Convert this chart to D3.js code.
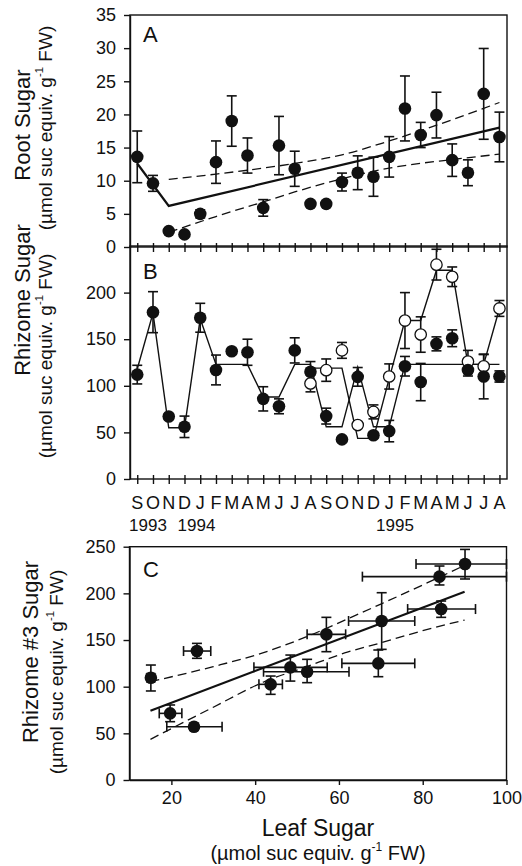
<!DOCTYPE html>
<html><head><meta charset="utf-8">
<script src="https://cdn.jsdelivr.net/npm/d3@7"></script>
<style>html,body{margin:0;padding:0;background:#fff}</style>
</head><body>
<script>
// ---------- data ----------
const months = ["S","O","N","D","J","F","M","A","M","J","J","A","S","O","N","D","J","F","M","A","M","J","J","A"];
const yearLabels = ["1993","1994","1995"];
const yearIndex = [0.68, 3.76, 16.37];

// Panel A: root sugar (filled), mean and SE
const rootMean = [13.6,9.6,2.4,1.9,5.0,12.8,19.0,13.8,5.9,15.3,11.8,6.5,6.5,9.8,11.2,10.6,13.6,20.9,16.9,19.9,13.1,11.2,23.1,16.6];
const rootErr  = [3.9,1.2,0.3,0.3,0.6,3.2,3.8,2.65,1.25,4.4,2.65,0.4,0.4,1.35,2.55,2.95,3.05,4.9,1.9,3.45,2.45,1.95,6.85,3.75];
const rootFitIdx = [0,2,23];
const rootFit = [12.6,6.2,18.0];
const rootBandIdx = [2,5,8,10,13,16,20,23];
const rootUpper = [10.2,11.0,11.9,12.6,13.9,16.0,19.2,21.8];
const rootLower = [2.2,4.6,6.8,8.3,10.3,11.9,13.2,14.0];

// Panel B: rhizome sugar, filled and open series
const rhizMean = [112,179,67,56,173,117,137,136,86,78,138,115,67.5,42.5,109.6,47,51.4,121,104,145,151,117,110,110];
const rhizErr  = [10,22,3,11.5,15.5,16,3,14,13,8,13.5,11,8.5,2,10,3,11.5,10.5,20,7.5,9,6.5,24,6];
const openMean = [null,null,null,null,null,null,null,null,null,null,null,102.5,116.8,138,57.9,72,110,170,155,230,217,126,121,183];
const openErr  = [null,null,null,null,null,null,null,null,null,null,null,9,12,8.5,3,7.5,13.5,30,19,16.5,10.5,12,12.5,8.5];
const fitLine1 = [118,178,55,55,172,123,123,123,88,88,123,123,56,56,120,56,56,123,123,123,123,123,123,123];
const fitLine2 = [null,null,null,null,null,null,null,null,null,null,null,119,119,119,43.6,43.6,108,170,170,224,224,123,123,183];

// Panel C: rhizome #3 vs leaf sugar
const leafX   = [15.1,19.7,25.4,26.1,43.7,48.4,52.4,57.0,70.2,69.4,84.4,84.0,90.1];
const leafXlo = [14.2,17.1,18.9,22.9,40.9,39.7,42.0,52.4,62.3,60.7,76.4,65.6,78.4];
const leafXhi = [16.0,22.5,32.1,29.4,46.5,57.2,62.4,61.6,78.1,78.1,92.6,100.3,100.0];
const rhiz3   = [109.6,71.4,57.1,138.2,102.5,120.7,116.0,156.1,170.4,125.0,183.2,217.9,231.4];
const rhiz3lo = [95.4,62.5,53.5,130.4,91.8,106.0,104.3,137.5,140.0,110.7,174.3,209.0,215.4];
const rhiz3hi = [123.2,80.4,60.5,146.4,111.4,133.9,129.3,174.3,200.7,139.3,191.8,229.3,247.1];
const cFitX = [15,90];
const cFit = [74.3,201.8];
const cBandX = [15,30,42,52,62,70,80,90];
const cUpper = [105.4,121.5,136.5,153,172.5,188.5,209,230];
const cLower = [43.6,78,105,121,137,147,160,171.4];

const yTicksA = [0,5,10,15,20,25,30,35];
const yTicksB = [0,50,100,150,200];
const yTicksC = [0,50,100,150,200,250];
const xTicksC = [20,40,60,80,100];

// ---------- layout ----------
const FONT = "'Liberation Sans', Arial, Helvetica, sans-serif";
const svg = d3.select("body").append("svg").attr("width",522).attr("height",866)
  .style("font-family",FONT);
svg.append("rect").attr("width",522).attr("height",866).attr("fill","#fff");

const L = 130, R = 507;
const xM = d3.scaleLinear().domain([-0.46,23.48]).range([L,R]);
const yA = d3.scaleLinear().domain([0,35]).range([247,15]);
const yB = d3.scaleLinear().domain([0,250]).range([479,246]);
const xC = d3.scaleLinear().domain([10,100]).range([129.5,506.5]);
const yC = d3.scaleLinear().domain([0,250]).range([780,546.7]);

const SW = 1.4;
function frame(x0,x1,y0,y1){
  svg.append("rect").attr("x",x0).attr("y",y0).attr("width",x1-x0).attr("height",y1-y0)
    .attr("fill","none").attr("stroke","#111").attr("stroke-width",SW);
}
function yAxis(scale,ticks,x){
  const g = svg.append("g").attr("transform",`translate(${x},0)`)
    .call(d3.axisLeft(scale).tickValues(ticks).tickSize(6).tickSizeOuter(0).tickPadding(8));
  g.select(".domain").attr("stroke","#111").attr("stroke-width",SW);
  g.selectAll(".tick line").attr("stroke","#111").attr("stroke-width",SW);
  g.selectAll(".tick text").attr("font-family",FONT).attr("font-size",18).attr("fill","#111");
  return g;
}
function monthTicks(y){
  const g = svg.append("g").attr("transform",`translate(0,${y})`)
    .call(d3.axisBottom(xM).tickValues(d3.range(24)).tickSize(5).tickSizeOuter(0).tickFormat(""));
  g.select(".domain").remove();
  g.selectAll(".tick line").attr("y1",-4).attr("y2",5).attr("stroke","#111").attr("stroke-width",SW);
}
function vErr(g,x,lo,hi,cap){
  g.append("line").attr("x1",x).attr("x2",x).attr("y1",lo).attr("y2",hi);
  g.append("line").attr("x1",x-cap).attr("x2",x+cap).attr("y1",lo).attr("y2",lo);
  g.append("line").attr("x1",x-cap).attr("x2",x+cap).attr("y1",hi).attr("y2",hi);
}
function hErr(g,y,lo,hi,cap){
  g.append("line").attr("y1",y).attr("y2",y).attr("x1",lo).attr("x2",hi);
  g.append("line").attr("y1",y-cap).attr("y2",y+cap).attr("x1",lo).attr("x2",lo);
  g.append("line").attr("y1",y-cap).attr("y2",y+cap).attr("x1",hi).attr("x2",hi);
}
function panelLetter(t,x,y){
  svg.append("text").attr("x",x).attr("y",y).attr("font-size",22).attr("fill","#111").text(t);
}
function yTitle(main,x1,x2,cy1,cy2,size1,size2){
  svg.append("text").attr("transform",`translate(${x1},${cy1}) rotate(-90)`)
    .attr("text-anchor","middle").attr("font-size",size1).attr("fill","#111").text(main);
  const t = svg.append("text").attr("transform",`translate(${x2},${cy2}) rotate(-90)`)
    .attr("text-anchor","middle").attr("font-size",size2).attr("fill","#111");
  t.append("tspan").text("(µmol suc equiv. g");
  t.append("tspan").attr("dy",-size2*0.45).attr("font-size",size2*0.6).text("-1");
  t.append("tspan").attr("dy",size2*0.45).text(" FW)");
}
const R0 = 6.3;

// ---------- Panel A ----------
frame(L,R,15,247);
yAxis(yA,yTicksA,L);
monthTicks(247);
panelLetter("A",143,42);
{
  const line = d3.line().x((d,i)=>xM(rootFitIdx[i])).y(d=>yA(d));
  svg.append("path").attr("d",line(rootFit)).attr("fill","none").attr("stroke","#111").attr("stroke-width",2.2);
  const band = d3.line().x((d,i)=>xM(rootBandIdx[i])).y(d=>yA(d)).curve(d3.curveMonotoneX);
  [rootUpper,rootLower].forEach(a=>svg.append("path").attr("d",band(a)).attr("fill","none")
    .attr("stroke","#111").attr("stroke-width",1.3).attr("stroke-dasharray","9,5"));
  const eg = svg.append("g").attr("stroke","#111").attr("stroke-width",1.6);
  rootMean.forEach((m,i)=>vErr(eg,xM(i),yA(m-rootErr[i]),yA(m+rootErr[i]),5));
  svg.append("g").selectAll("circle").data(rootMean).join("circle")
    .attr("cx",(d,i)=>xM(i)).attr("cy",d=>yA(d)).attr("r",R0).attr("fill","#111");
}

// ---------- Panel B ----------
frame(L,R,246,479);
yAxis(yB,yTicksB,L);
monthTicks(479);
panelLetter("B",143,279);
{
  const line = d3.line().defined(d=>d!=null).x((d,i)=>xM(i)).y(d=>yB(d));
  [fitLine1,fitLine2].forEach(a=>svg.append("path").attr("d",line(a)).attr("fill","none")
    .attr("stroke","#111").attr("stroke-width",1.4));
  const eg = svg.append("g").attr("stroke","#111").attr("stroke-width",1.6);
  rhizMean.forEach((m,i)=>vErr(eg,xM(i),yB(m-rhizErr[i]),yB(m+rhizErr[i]),5));
  openMean.forEach((m,i)=>{ if(m!=null) vErr(eg,xM(i),yB(m-openErr[i]),yB(m+openErr[i]),5); });
  svg.append("g").selectAll("circle").data(openMean.map((d,i)=>({d,i})).filter(o=>o.d!=null)).join("circle")
    .attr("cx",o=>xM(o.i)).attr("cy",o=>yB(o.d)).attr("r",R0-0.6).attr("fill","#fff")
    .attr("stroke","#111").attr("stroke-width",1.3);
  svg.append("g").selectAll("circle").data(rhizMean).join("circle")
    .attr("cx",(d,i)=>xM(i)).attr("cy",d=>yB(d)).attr("r",R0).attr("fill","#111");
}
// month and year labels
svg.append("g").selectAll("text").data(months).join("text")
  .attr("x",(d,i)=>xM(i)).attr("y",509).attr("text-anchor","middle")
  .attr("font-size",18).attr("fill","#111").text(d=>d);
svg.append("g").selectAll("text").data(yearLabels).join("text")
  .attr("x",(d,i)=>xM(yearIndex[i])).attr("y",531).attr("text-anchor","middle")
  .attr("font-size",17).attr("fill","#111").text(d=>d);

// ---------- Panel C ----------
frame(129.5,506.5,546.7,780);
yAxis(yC,yTicksC,129.5);
{
  const g = svg.append("g").attr("transform","translate(0,780)")
    .call(d3.axisBottom(xC).tickValues(xTicksC).tickSize(5).tickSizeOuter(0).tickPadding(6));
  g.select(".domain").attr("stroke","#111").attr("stroke-width",SW);
  g.selectAll(".tick line").attr("stroke","#111").attr("stroke-width",SW);
  g.selectAll(".tick text").attr("font-family",FONT).attr("font-size",18).attr("fill","#111");
}
panelLetter("C",143,577);
{
  const line = d3.line().x((d,i)=>xC(cFitX[i])).y(d=>yC(d));
  svg.append("path").attr("d",line(cFit)).attr("fill","none").attr("stroke","#111").attr("stroke-width",2.2);
  const band = d3.line().x((d,i)=>xC(cBandX[i])).y(d=>yC(d)).curve(d3.curveMonotoneX);
  [cUpper,cLower].forEach(a=>svg.append("path").attr("d",band(a)).attr("fill","none")
    .attr("stroke","#111").attr("stroke-width",1.3).attr("stroke-dasharray","9,5"));
  const eg = svg.append("g").attr("stroke","#111").attr("stroke-width",1.6);
  leafX.forEach((x,i)=>{
    vErr(eg,xC(x),yC(rhiz3lo[i]),yC(rhiz3hi[i]),5);
    hErr(eg,yC(rhiz3[i]),xC(leafXlo[i]),Math.min(xC(leafXhi[i]),506.5),5);
  });
  svg.append("g").selectAll("circle").data(rhiz3).join("circle")
    .attr("cx",(d,i)=>xC(leafX[i])).attr("cy",d=>yC(d)).attr("r",R0).attr("fill","#111");
}
svg.append("text").attr("x",318).attr("y",836).attr("text-anchor","middle")
  .attr("font-size",23).attr("fill","#111").text("Leaf Sugar");
{
  const t = svg.append("text").attr("x",318).attr("y",860).attr("text-anchor","middle")
    .attr("font-size",20).attr("fill","#111");
  t.append("tspan").text("(µmol suc equiv. g");
  t.append("tspan").attr("dy",-9).attr("font-size",12).text("-1");
  t.append("tspan").attr("dy",9).text(" FW)");
}

// y titles
yTitle("Root Sugar",30,52,125,128,22,19);
yTitle("Rhizome Sugar",30,52,300,356,22,19);
yTitle("Rhizome #3 Sugar",38,63,652,672,22,19);
</script>
</body></html>
